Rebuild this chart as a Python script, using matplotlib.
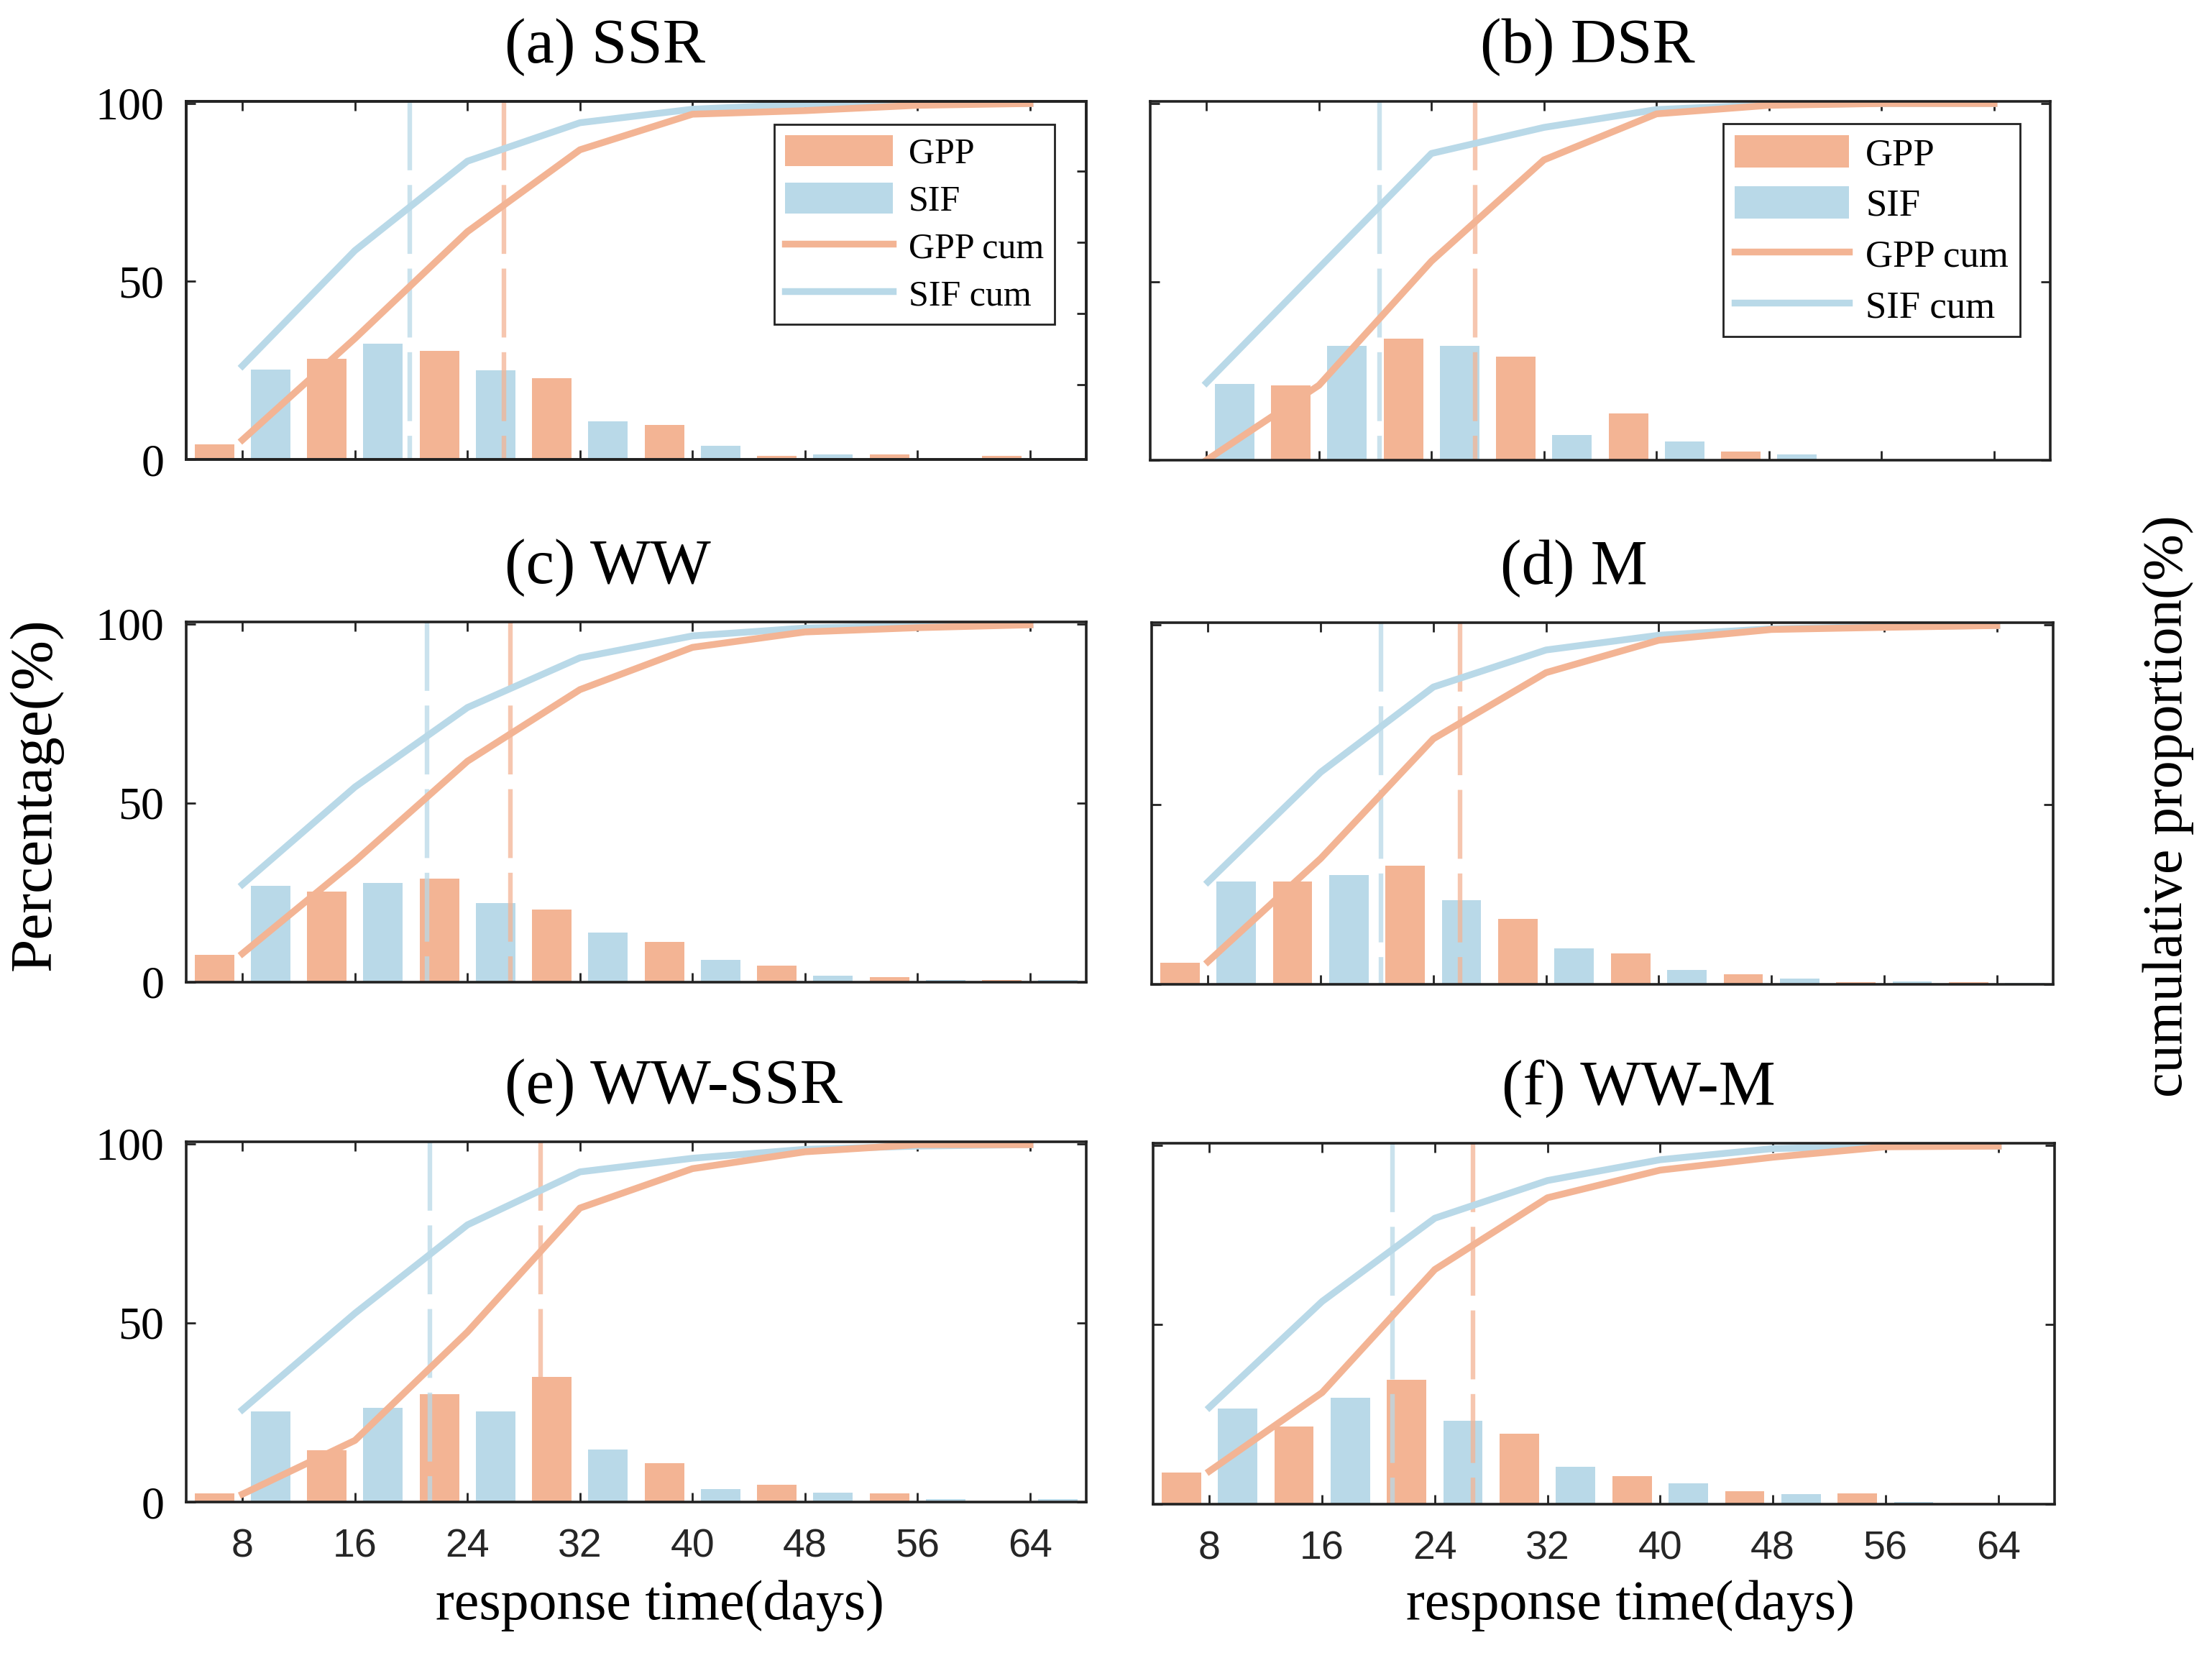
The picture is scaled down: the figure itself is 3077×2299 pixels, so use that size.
import numpy as np
import matplotlib
matplotlib.use("Agg")
import matplotlib.pyplot as plt
from matplotlib.patches import Patch
from matplotlib.lines import Line2D

plt.rcParams['font.family'] = ['Liberation Serif', 'DejaVu Serif']

# ---------------- data ----------------
days = [8, 16, 24, 32, 40, 48, 56, 64]
titles = ['(a) SSR', '(b) DSR', '(c) WW', '(d) M', '(e) WW-SSR', '(f) WW-M']

a_gpp = [4.3, 28.2, 30.5, 22.8, 9.7, 1.0, 1.5, 1.0]
a_sif = [25.2, 32.5, 25.0, 10.7, 3.8, 1.5, 0.1, 0.5]
a_gpp_cum = [5.5, 34.0, 64.0, 87.0, 97.0, 98.0, 99.5, 100.0]
a_sif_cum = [26.3, 58.7, 83.8, 94.6, 98.4, 99.8, 100.0, 100.0]
a_median = [26.6, 19.9]          # GPP, SIF

b_gpp = [0.0, 21.0, 34.1, 29.0, 13.1, 2.5, 0.0, 0.0]
b_sif = [21.3, 32.0, 32.0, 7.0, 5.3, 1.6, 0.0, 0.0]
b_gpp_cum = [0.0, 21.0, 55.8, 84.2, 97.1, 99.5, 100.0, 100.0]
b_sif_cum = [21.7, 53.9, 86.0, 93.3, 98.3, 99.7, 100.0, 100.0]
b_median = [27.1, 20.3]

c_gpp = [7.7, 25.3, 29.0, 20.3, 11.2, 4.6, 1.4, 0.7]
c_sif = [27.0, 27.8, 22.0, 13.9, 6.2, 1.9, 0.7, 0.7]
c_gpp_cum = [8.0, 33.8, 61.7, 81.7, 93.5, 97.8, 99.0, 99.8]
c_sif_cum = [27.3, 54.5, 76.7, 90.6, 96.7, 98.9, 99.6, 99.8]
c_median = [27.05, 21.1]

d_gpp = [6.1, 28.7, 33.0, 18.3, 8.7, 2.9, 0.6, 0.6]
d_sif = [28.7, 30.4, 23.5, 10.0, 4.0, 1.6, 0.8, 0.4]
d_gpp_cum = [6.3, 35.0, 68.3, 86.7, 95.7, 98.7, 99.3, 99.8]
d_sif_cum = [28.5, 59.0, 82.7, 93.0, 97.1, 98.9, 99.5, 99.8]
d_median = [25.9, 20.3]

e_gpp = [2.4, 14.4, 30.1, 35.0, 10.8, 4.8, 2.4, 0.0]
e_sif = [25.3, 26.4, 25.3, 14.7, 3.6, 2.6, 0.9, 0.9]
e_gpp_cum = [2.2, 17.2, 47.5, 82.1, 93.1, 97.8, 99.8, 99.8]
e_sif_cum = [25.8, 52.7, 77.4, 92.2, 96.0, 98.5, 99.4, 99.8]
e_median = [29.2, 21.35]

f_gpp = [8.9, 21.7, 34.6, 19.7, 7.9, 3.6, 3.1, 0.4]
f_sif = [26.6, 29.6, 23.2, 10.4, 5.9, 2.9, 0.7, 0.0]
f_gpp_cum = [9.2, 31.1, 65.4, 85.4, 93.1, 96.7, 99.6, 99.8]
f_sif_cum = [27.0, 56.5, 79.7, 90.2, 96.0, 99.1, 99.8, 99.8]
f_median = [26.7, 21.0]

panels = [
    (a_gpp, a_sif, a_gpp_cum, a_sif_cum, a_median),
    (b_gpp, b_sif, b_gpp_cum, b_sif_cum, b_median),
    (c_gpp, c_sif, c_gpp_cum, c_sif_cum, c_median),
    (d_gpp, d_sif, d_gpp_cum, d_sif_cum, d_median),
    (e_gpp, e_sif, e_gpp_cum, e_sif_cum, e_median),
    (f_gpp, f_sif, f_gpp_cum, f_sif_cum, f_median),
]

# ---------------- style ----------------
GPP_C = '#F3B494'
SIF_C = '#B9D9E8'
SPINE_C = '#222222'
CUM_LW = 3.4

W, H = 3077, 2299
# axes boxes in pixels: left, top, right, bottom
boxes = [
    (259, 141, 1511, 639),
    (1600, 141, 2852, 640),
    (259, 865, 1511, 1366),
    (1602, 866, 2856, 1369),
    (259, 1588, 1511, 2089),
    (1604, 1590, 2858, 2092),
]
title_x = [0.354, 0.367, 0.354, 0.387, 0.354, 0.387]

fig = plt.figure(figsize=(W / 200, H / 200), dpi=200)

x = np.array(days, dtype=float)
for i, (gpp, sif, gcum, scum, med) in enumerate(panels):
    l, t, r, b = boxes[i]
    ax = fig.add_axes([l / W, 1 - b / H, (r - l) / W, (b - t) / H])
    ax.bar(x - 2, gpp, width=2.8, color=GPP_C, linewidth=0, zorder=2)
    ax.bar(x + 2, sif, width=2.8, color=SIF_C, linewidth=0, zorder=2)
    ax.axvline(med[1], ymin=1, ymax=0, color=SIF_C, lw=2.3, alpha=0.75,
               ls=(0, (15, 3.2)), zorder=3)
    ax.axvline(med[0], ymin=1, ymax=0, color=GPP_C, lw=2.3, alpha=0.75,
               ls=(0, (15, 3.2)), zorder=3)
    ax.plot(x, scum, color=SIF_C, lw=CUM_LW, zorder=4)
    ax.plot(x, gcum, color=GPP_C, lw=CUM_LW, zorder=4)

    ax.set_xlim(4, 68)
    ax.set_ylim(0, 100.6)
    ax.set_xticks(days, labels=[str(d) for d in days],
                  fontfamily=['Liberation Sans', 'DejaVu Sans'],
                  fontsize=20, color='#262626')
    ax.set_yticks([0, 50, 100])
    ax.tick_params(axis='x', direction='in', top=True, bottom=True,
                   length=4.7, width=1.0, pad=13, colors=SPINE_C,
                   labelcolor='#262626', labelbottom=(i >= 4))
    ax.tick_params(axis='y', direction='in', left=True, right=(i != 0),
                   length=4.7, width=1.0, pad=11, labelsize=23,
                   colors=SPINE_C, labelcolor='black',
                   labelleft=(i % 2 == 0))
    for sp in ax.spines.values():
        sp.set_linewidth(1.3)
        sp.set_color(SPINE_C)
        sp.set_zorder(10)

    if i == 0:
        tw = ax.twinx()
        tw.set_ylim(ax.get_ylim())
        tw.set_yticks([21, 41, 61, 81])
        tw.tick_params(axis='y', direction='in', length=4.7, width=1.0,
                       colors=SPINE_C, labelright=False)
        for sp in tw.spines.values():
            sp.set_linewidth(1.3)
            sp.set_color(SPINE_C)
        ax.tick_params(axis='y', left=True, right=False)

    ax.annotate(titles[i], xy=(title_x[i], 1), xycoords='axes fraction',
                xytext=(0, 19.4), textcoords='offset points',
                ha='left', va='baseline', fontsize=32)

    if i < 2:
        handles = [Patch(facecolor=GPP_C, edgecolor='none'),
                   Patch(facecolor=SIF_C, edgecolor='none'),
                   Line2D([], [], color=GPP_C, lw=CUM_LW),
                   Line2D([], [], color=SIF_C, lw=CUM_LW)]
        labels = ['GPP', 'SIF', 'GPP cum', 'SIF cum']
        if i == 0:
            anchor, fs, ls = (0.965, 0.936), 18, 0.33
        else:
            anchor, fs, ls = (0.9665, 0.937), 19, 0.36
        leg = ax.legend(handles, labels, loc='upper right',
                        bbox_to_anchor=anchor, borderaxespad=0,
                        fontsize=fs, handlelength=3.0, handleheight=0.94,
                        handletextpad=0.45, labelspacing=ls, borderpad=0.3,
                        frameon=True, fancybox=False, edgecolor=SPINE_C,
                        framealpha=1)
        leg.get_frame().set_linewidth(1.0)
        leg.set_zorder(20)

# shared labels
fig.text(918 / W, 1 - 2233 / H, 'response time(days)', ha='center',
         va='center', fontsize=28)
fig.text(2268 / W, 1 - 2233 / H, 'response time(days)', ha='center',
         va='center', fontsize=28)
fig.text(50 / W, 1 - 1105 / H, 'Percentage(%)', rotation=90, ha='center',
         va='center', fontsize=30)
fig.text(3016 / W, 1 - 1121 / H, 'cumulative proportion(%)', rotation=90,
         ha='center', va='center', fontsize=28)

fig.savefig('out.png', dpi=200, facecolor='white')
